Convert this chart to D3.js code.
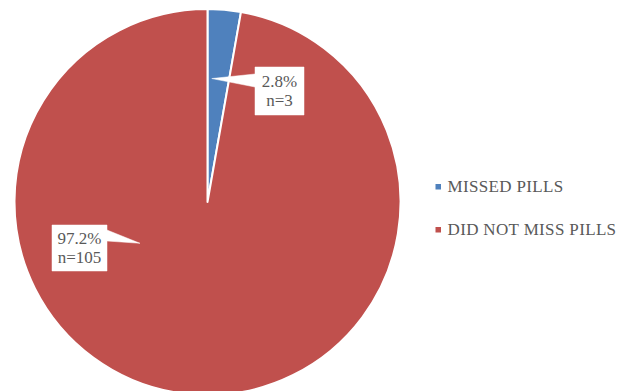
<!DOCTYPE html>
<html>
<head>
<meta charset="utf-8">
<script src="https://cdn.jsdelivr.net/npm/d3@7/dist/d3.min.js"></script>
<style>
  html, body { margin: 0; padding: 0; background: #ffffff; }
  svg { display: block; }
</style>
</head>
<body>
<svg id="chart" width="628" height="391"></svg>
<script>
// Pill adherence breakdown
const categories = ["MISSED PILLS", "DID NOT MISS PILLS"];
const counts = [3, 105];
const percentLabels = ["2.8%", "97.2%"];
const countLabels = ["n=3", "n=105"];
const sliceColors = ["#4F81BD", "#C0504D"];

// Layout
const center = { x: 207.5, y: 202 };
const radius = 193;
const textColor = "#595959";
const fontSize = 17;
const fontFamily = "'Liberation Serif', 'Times New Roman', Times, serif";

// Callout placement: box centre/size in px, pointer tip as (fraction of slice sweep, fraction of radius)
const callouts = [
  { cx: 279.5, cy: 91, w: 49, h: 48, tipAngleFrac: 0.2, tipRadiusFrac: 0.64, side: "left",  baseTop: 7,  baseBot: 20 },
  { cx: 79.5, cy: 248, w: 55, h: 46, tipAngleFrac: 0.653, tipRadiusFrac: 0.41, side: "right", baseTop: 5, baseBot: 16 }
];

const svg = d3.select("#chart");

const pie = d3.pie().sort(null).value(d => d)(counts);
const arc = d3.arc().innerRadius(0).outerRadius(radius);

const g = svg.append("g").attr("transform", `translate(${center.x},${center.y})`);

g.selectAll("path.slice")
  .data(pie)
  .join("path")
  .attr("class", "slice")
  .attr("d", arc)
  .attr("fill", (d, i) => sliceColors[i])
  .attr("stroke", "#ffffff")
  .attr("stroke-width", 2)
  .attr("stroke-linejoin", "round");

// Callouts with pointers into their slices
pie.forEach((d, i) => {
  const c = callouts[i];
  const a = d.startAngle + (d.endAngle - d.startAngle) * c.tipAngleFrac;
  const r = radius * c.tipRadiusFrac;
  const tip = [center.x + r * Math.sin(a), center.y - r * Math.cos(a)];
  const x0 = c.cx - c.w / 2, x1 = c.cx + c.w / 2;
  const y0 = c.cy - c.h / 2, y1 = c.cy + c.h / 2;

  const path = d3.path();
  if (c.side === "left") {
    path.moveTo(x0, y0);
    path.lineTo(x1, y0);
    path.lineTo(x1, y1);
    path.lineTo(x0, y1);
    path.lineTo(x0, y0 + c.baseBot);
    path.lineTo(tip[0], tip[1]);
    path.lineTo(x0, y0 + c.baseTop);
    path.closePath();
  } else {
    path.moveTo(x0, y0);
    path.lineTo(x1, y0);
    path.lineTo(x1, y0 + c.baseTop);
    path.lineTo(tip[0], tip[1]);
    path.lineTo(x1, y0 + c.baseBot);
    path.lineTo(x1, y1);
    path.lineTo(x0, y1);
    path.closePath();
  }
  svg.append("path")
    .attr("d", path.toString())
    .attr("fill", "#ffffff")
    .attr("stroke", "#ffffff")
    .attr("stroke-width", 0.5);

  const t = svg.append("text")
    .attr("x", c.cx)
    .attr("y", c.cy - 4)
    .attr("text-anchor", "middle")
    .attr("fill", textColor)
    .attr("font-family", fontFamily)
    .attr("font-size", fontSize);
  t.append("tspan").attr("x", c.cx).attr("dy", 0).text(percentLabels[i]);
  t.append("tspan").attr("x", c.cx).attr("dy", 18.8).text(countLabels[i]);
});

// Legend
const legendY = d3.scalePoint().domain(categories).range([192, 235]);
const legend = svg.append("g");
categories.forEach((name, i) => {
  const y = legendY(name);
  legend.append("rect")
    .attr("x", 435.5)
    .attr("y", y - 8)
    .attr("width", 5.5)
    .attr("height", 5.5)
    .attr("fill", sliceColors[i]);
  legend.append("text")
    .attr("x", 447.5)
    .attr("y", y)
    .attr("fill", textColor)
    .attr("font-family", fontFamily)
    .attr("font-size", fontSize)
    .attr("letter-spacing", 0.35)
    .text(name);
});
</script>
</body>
</html>
